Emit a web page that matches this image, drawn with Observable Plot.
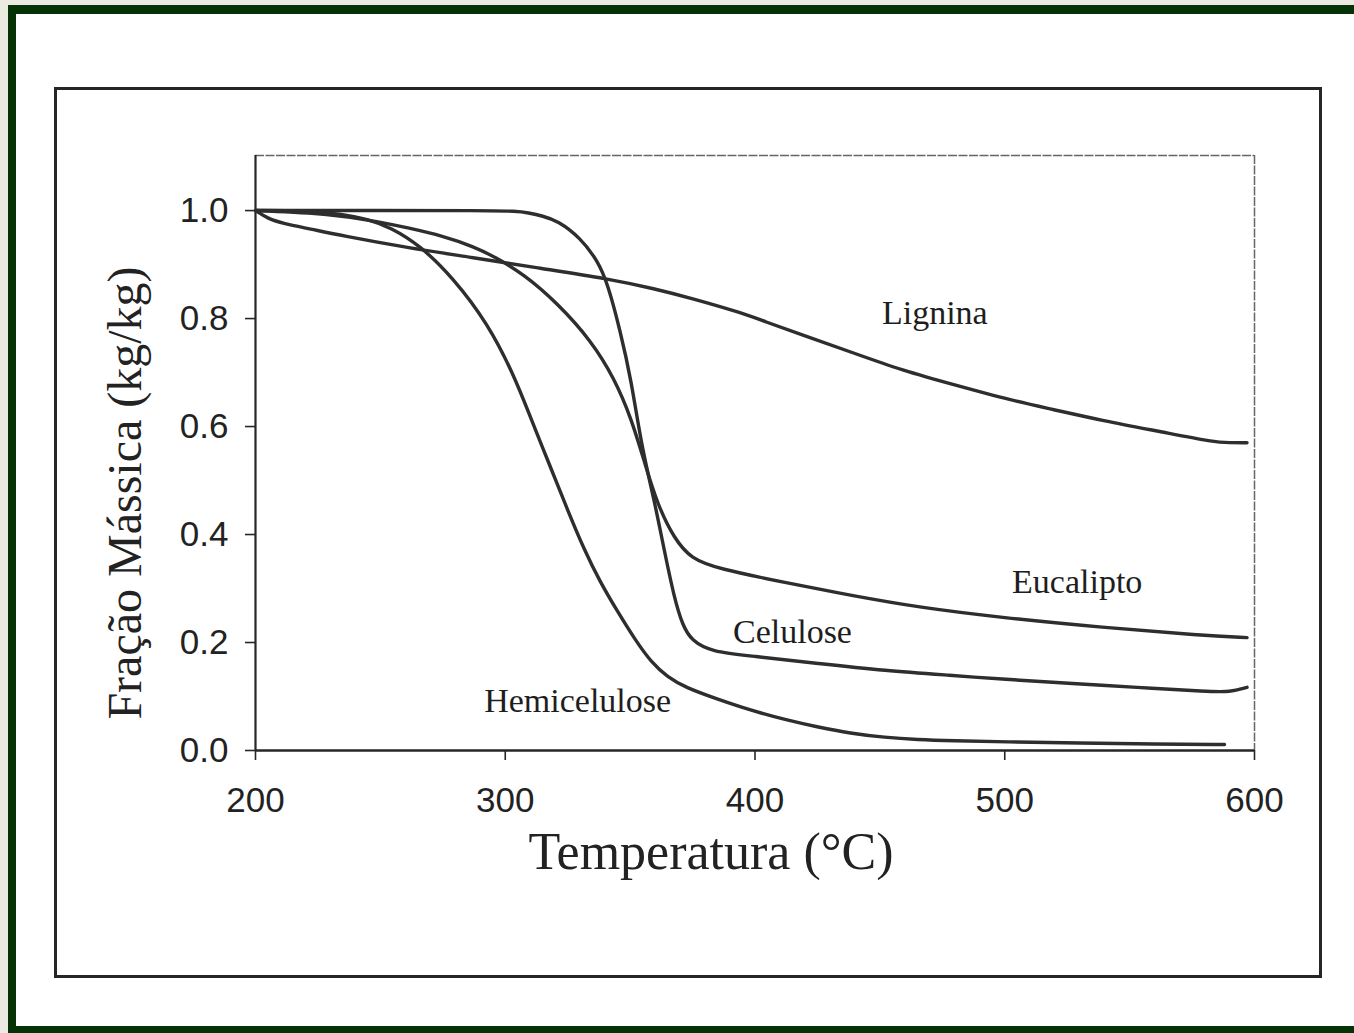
<!DOCTYPE html>
<html>
<head>
<meta charset="utf-8">
<script src="https://cdn.jsdelivr.net/npm/d3@7"></script>
<script src="https://cdn.jsdelivr.net/npm/@observablehq/plot@0.6"></script>
<style>
  html, body { margin: 0; padding: 0; background: #ecebe1; }
  #page { position: relative; width: 1354px; height: 1033px; overflow: hidden; background: #ecebe1; }
  #green { position: absolute; left: 8px; top: 5px; width: 1346px; height: 1028px; background: #063306; }
  #white { position: absolute; left: 16px; top: 14px; width: 1338px; height: 1012px; background: #ffffff; }
  #box { position: absolute; left: 54px; top: 87px; width: 1268px; height: 891px; border: 3px solid #262626; box-sizing: border-box; }
  #chart { position: absolute; left: 0; top: 0; }
</style>
</head>
<body>
<div id="page">
  <div id="green"></div>
  <div id="white"></div>
  <div id="box"></div>
  <div id="chart"></div>
</div>
<script>
// ---- data ----
const xTicks = [200, 300, 400, 500, 600];
const yTicks = [0.0, 0.2, 0.4, 0.6, 0.8, 1.0];
const xLabel = "Temperatura (°C)";
const yLabel = "Fração Mássica (kg/kg)";

const ligninaT = [200, 205, 211, 222, 234, 261, 287, 314, 341, 360, 375, 395, 403, 420, 439, 459, 480, 503, 519, 539, 563, 584, 590, 597];
const ligninaV = [1.0, 0.985, 0.976, 0.966, 0.954, 0.931, 0.913, 0.893, 0.874, 0.855, 0.837, 0.810, 0.796, 0.768, 0.737, 0.704, 0.677, 0.648, 0.632, 0.611, 0.590, 0.571, 0.570, 0.570];

const hemiT = [200, 220, 234, 245, 254, 266, 279, 293, 303.5, 310, 318, 325, 331.6, 338, 345, 352, 358.5, 365, 372, 385, 398.6, 412, 425.5, 438, 452, 465, 479, 500, 530, 560, 588];
const hemiV = [1.0, 1.0, 0.994, 0.984, 0.969, 0.935, 0.876, 0.791, 0.695, 0.618, 0.526, 0.445, 0.372, 0.312, 0.257, 0.205, 0.163, 0.136, 0.117, 0.095, 0.074, 0.057, 0.043, 0.032, 0.024, 0.020, 0.018, 0.016, 0.014, 0.012, 0.011];

const celT = [200, 250, 290, 305, 309, 315, 321, 330, 337, 341, 346, 350.5, 354.5, 359.7, 363.7, 367.7, 371, 374.5, 382.5, 398.6, 425.5, 452, 479, 499, 528, 552, 582, 590, 597];
const celV = [1.0, 1.0, 1.0, 0.999, 0.996, 0.99, 0.981, 0.95, 0.907, 0.865, 0.778, 0.685, 0.565, 0.463, 0.370, 0.282, 0.232, 0.204, 0.183, 0.175, 0.161, 0.148, 0.139, 0.132, 0.124, 0.117, 0.109, 0.108, 0.117];

const eucT = [200, 230, 250, 261, 275, 287.5, 295.5, 307.5, 321, 334.4, 343.6, 350.5, 356, 361, 367.7, 374.5, 385, 412, 438.7, 465.6, 499, 539, 579, 597];
const eucV = [1.0, 0.994, 0.979, 0.968, 0.953, 0.933, 0.915, 0.882, 0.828, 0.759, 0.690, 0.615, 0.53, 0.455, 0.392, 0.355, 0.337, 0.311, 0.287, 0.265, 0.246, 0.228, 0.213, 0.209];

const labelNames = ["Lignina", "Eucalipto", "Celulose", "Hemicelulose"];
const labelT = [472, 529, 415, 329];
const labelV = [0.811, 0.311, 0.2185, 0.0907];

const Y_TOP = 1.102;

// ---- build tables ----
const series = [
  ["Lignina", ligninaT, ligninaV],
  ["Hemicelulose", hemiT, hemiV],
  ["Celulose", celT, celV],
  ["Eucalipto", eucT, eucV]
];
const rows = series.flatMap(([name, T, V]) => T.map((t, i) => ({series: name, t, v: V[i]})));
const labels = labelNames.map((name, i) => ({name, t: labelT[i], v: labelV[i]}));

const ink = "#262626";
const chart = Plot.plot({
  width: 1354,
  height: 1033,
  marginLeft: 255,
  marginRight: 100,
  marginTop: 155,
  marginBottom: 283,
  x: {domain: [200, 600]},
  y: {domain: [0, Y_TOP]},
  style: {background: "transparent", color: ink, overflow: "visible"},
  marks: [
    Plot.ruleY([Y_TOP], {stroke: "#666", strokeWidth: 1.3, strokeDasharray: "9,1.5"}),
    Plot.ruleX([600], {stroke: "#666", strokeWidth: 1.5, strokeDasharray: "9,1.5"}),
    Plot.axisY(yTicks, {tickSize: 10, tickPadding: 17, tickFormat: d => d.toFixed(1), fontSize: 35, fontFamily: "Liberation Sans", label: null, stroke: ink, strokeWidth: 1.6, fill: "#222"}),
    Plot.axisX(xTicks, {tickSize: 10, tickPadding: 27, tickFormat: d => String(d), fontSize: 35, fontFamily: "Liberation Sans", label: null, stroke: ink, strokeWidth: 1.6, fill: "#222"}),
    Plot.ruleX([200], {stroke: ink, strokeWidth: 2.2}),
    Plot.ruleY([0], {stroke: ink, strokeWidth: 2.4}),
    Plot.line(rows, {x: "t", y: "v", z: "series", curve: "basis", stroke: "#2e2e2e", strokeWidth: 3.4}),
    Plot.text(labels, {x: "t", y: "v", text: "name", fontSize: 34, fontFamily: "Liberation Serif", fill: "#1e1e1e", lineAnchor: "middle"}),
    Plot.text([xLabel], {frameAnchor: "bottom", textAnchor: "middle", lineAnchor: "middle", dx: -44, dy: 102, fontSize: 52, fontFamily: "Liberation Serif", fill: "#222"}),
    Plot.text([yLabel], {frameAnchor: "left", textAnchor: "middle", lineAnchor: "middle", rotate: -90, dx: -130, dy: 40, fontSize: 48, fontFamily: "Liberation Serif", fill: "#222"})
  ]
});
document.getElementById("chart").appendChild(chart);
</script>
</body>
</html>
